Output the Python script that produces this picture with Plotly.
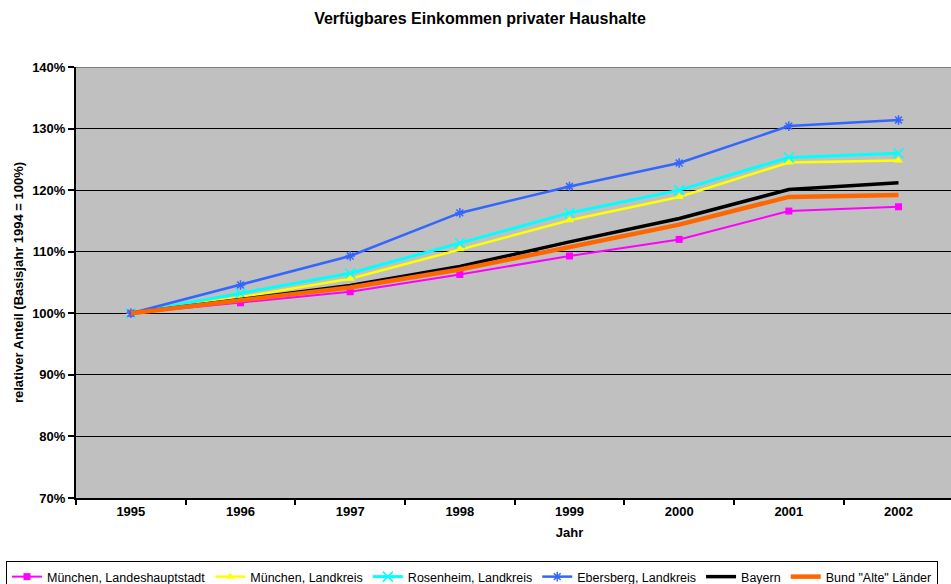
import plotly.graph_objects as go

# Jahre und Indexwerte (Basisjahr 1994 = 100%)
years = ["1995", "1996", "1997", "1998", "1999", "2000", "2001", "2002"]

muenchen_lh = [100.0, 101.7, 103.5, 106.3, 109.3, 112.0, 116.6, 117.3]
muenchen_lk = [100.0, 102.6, 105.6, 110.4, 115.1, 118.9, 124.5, 124.8]
rosenheim = [100.0, 103.2, 106.5, 111.4, 116.3, 120.0, 125.3, 126.0]
ebersberg = [100.0, 104.6, 109.3, 116.3, 120.6, 124.4, 130.4, 131.4]
bayern = [100.0, 102.3, 104.5, 107.6, 111.6, 115.4, 120.1, 121.2]
bund_alt = [100.0, 102.1, 104.2, 107.1, 110.8, 114.4, 118.9, 119.2]

y_ticks = [70, 80, 90, 100, 110, 120, 130, 140]

FONT = "Arial, Liberation Sans, sans-serif"

series = [
    ("München, Landeshauptstadt", muenchen_lh, "#FF00FF", 2, dict(symbol="square", size=7)),
    ("München, Landkreis", muenchen_lk, "#FFFF00", 2.5, dict(symbol="triangle-up", size=8)),
    ("Rosenheim, Landkreis", rosenheim, "#00FFFF", 3,
     dict(symbol="x-thin-open", size=10, line=dict(width=1.5, color="#00FFFF"))),
    ("Ebersberg, Landkreis", ebersberg, "#3366FF", 2.5,
     dict(symbol="asterisk-open", size=8, line=dict(width=1.5, color="#3366FF"))),
    ("Bayern", bayern, "#000000", 3.5, None),
    ('Bund "Alte" Länder', bund_alt, "#FF6600", 4.5, None),
]

fig = go.Figure()
for name, vals, color, width, marker in series:
    if marker is None:
        fig.add_trace(go.Scatter(x=years, y=vals, name=name, mode="lines",
                                 line=dict(color=color, width=width)))
    else:
        marker = dict(color=color, **marker)
        fig.add_trace(go.Scatter(x=years, y=vals, name=name, mode="lines+markers",
                                 line=dict(color=color, width=width), marker=marker))

# obere Rahmenlinie der Zeichenfläche
fig.add_shape(type="line", xref="paper", yref="y", x0=0, x1=1, y0=140, y1=140,
              line=dict(color="#808080", width=2), layer="above")

# the original chart is cut off at the right edge, so the figure is wider
# than the window and the overflow is hidden
FIG_W = 1100

fig.update_layout(
    width=FIG_W,
    height=584,
    paper_bgcolor="white",
    plot_bgcolor="#C0C0C0",
    font=dict(family=FONT, size=13, color="black"),
    margin=dict(l=76, r=37, t=67, b=86),
    title=dict(text="<b>Verfügbares Einkommen privater Haushalte</b>",
               x=480 / FIG_W, xref="container", xanchor="center",
               y=1 - 18 / 584, yref="container", yanchor="middle",
               font=dict(size=16, family=FONT)),
    showlegend=True,
    legend=dict(orientation="h", x=6 / FIG_W, xref="container", xanchor="left",
                y=1 - 561 / 584, yref="container", yanchor="top",
                bgcolor="white", bordercolor="black", borderwidth=1,
                font=dict(size=12.5, family=FONT), itemwidth=30,
                tracegroupgap=0, traceorder="normal"),
)

fig.update_xaxes(
    type="category",
    range=[-0.5, 8.5],
    automargin=False,
    tickson="boundaries",
    ticks="outside", ticklen=5, tickwidth=1.5, tickcolor="black",
    showline=True, linecolor="black", linewidth=2,
    showgrid=False,
    tickfont=dict(size=13, family=FONT, weight="bold"),
    title=dict(text="<b>Jahr</b>", font=dict(size=13, family=FONT), standoff=10),
)

fig.update_yaxes(
    range=[70, 140],
    automargin=False,
    tickvals=y_ticks,
    ticktext=[f"{v}%" for v in y_ticks],
    ticks="outside", ticklen=6, tickwidth=1.5, tickcolor="black",
    showline=True, linecolor="black", linewidth=2,
    showgrid=True, gridcolor="#000000", gridwidth=1,
    zeroline=False,
    tickfont=dict(size=13, family=FONT, weight="bold"),
    title=dict(text="<b>relativer Anteil (Basisjahr 1994 = 100%)</b>",
               font=dict(size=13, family=FONT), standoff=6),
)

fig.write_html(
    "out.html",
    config={"displayModeBar": False},
    post_script=(
        "document.body.style.margin='0';"
        "document.body.style.overflow='hidden';"
        "document.documentElement.style.overflow='hidden';"
    ),
)
